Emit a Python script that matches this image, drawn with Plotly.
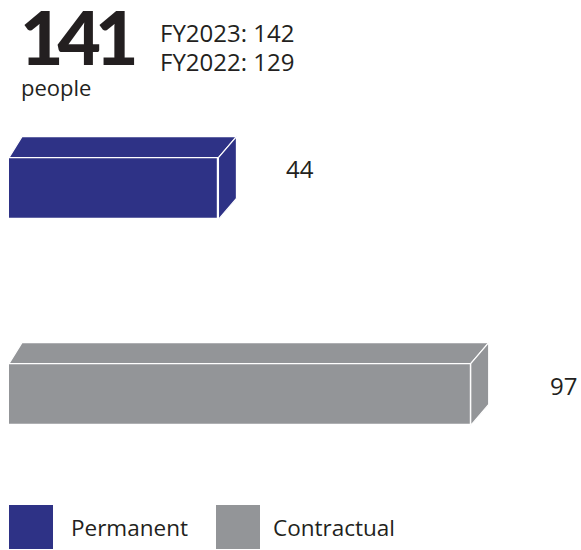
import plotly.graph_objects as go

# ---------------- data ----------------
categories = ["Permanent", "Contractual"]
values = [44, 97]
total_value = "141"
total_unit = "people"
prior_labels = ["FY2023: 142", "FY2022: 129"]

# ---------------- style ----------------
colors = ["#2E3286", "#939598"]
FONT = "Open Sans"
TEXT = "#231F20"
W, H = 581, 550
X_ZERO_PX = 9          # pixel position of value 0
X_SCALE = 4.76         # pixels per unit
Y0_PX = 188.5          # pixel centre of first bar
Y_STEP = 206           # pixels between bar centres
BAR_W = 0.30           # bar thickness in category units
DX_R = 18 / X_SCALE    # 3D depth (data units)
DX_L = 13 / X_SCALE
DY = 21 / Y_STEP
LABEL_XSHIFT = [66, 77]
LABEL_YSHIFT = [20, 9]

def px(x):
    return x / W

def py(y):
    return 1 - y / H

fig = go.Figure()

ypos = list(range(len(categories)))

# front faces
fig.add_trace(go.Bar(
    x=values, y=ypos, orientation="h", width=BAR_W,
    marker=dict(color=colors, line=dict(color="white", width=1.2)),
    showlegend=False, hoverinfo="skip",
))

# top and side faces
for i, (v, c) in enumerate(zip(values, colors)):
    top = ypos[i] - BAR_W / 2
    bot = ypos[i] + BAR_W / 2
    back = top - DY
    fig.add_trace(go.Scatter(
        x=[0, v, v + DX_R, DX_L, 0], y=[top, top, back, back, top],
        fill="toself", fillcolor=c, mode="lines",
        line=dict(color="white", width=1.2), showlegend=False, hoverinfo="skip"))
    fig.add_trace(go.Scatter(
        x=[v, v + DX_R, v + DX_R, v, v], y=[top, back, bot - DY, bot, top],
        fill="toself", fillcolor=c, mode="lines",
        line=dict(color="white", width=1.2), showlegend=False, hoverinfo="skip"))

annotations = []
for i, v in enumerate(values):
    annotations.append(dict(
        x=v, y=ypos[i], xref="x", yref="y", text=str(v), showarrow=False,
        xanchor="left", yanchor="middle", xshift=LABEL_XSHIFT[i], yshift=LABEL_YSHIFT[i],
        font=dict(family=FONT, size=24, color=TEXT)))

# headline
annotations.append(dict(
    x=px(18), y=py(-11), xref="paper", yref="paper",
    text='<span style="letter-spacing:-6px">' + total_value + '</span>', showarrow=False,
    xanchor="left", yanchor="top",
    font=dict(family="Lato", size=75, color=TEXT, weight=900)))
annotations.append(dict(
    x=px(19), y=py(87), xref="paper", yref="paper", text=total_unit, showarrow=False,
    xanchor="left", yanchor="middle", font=dict(family=FONT, size=22, color=TEXT)))
for k, t in enumerate(prior_labels):
    annotations.append(dict(
        x=px(158), y=py(32.5 + 28.5 * k), xref="paper", yref="paper", text=t, showarrow=False,
        xanchor="left", yanchor="middle", font=dict(family=FONT, size=24, color=TEXT)))

# legend
shapes = []
leg_x = [9, 216]
leg_tx = [69, 271]
for k, (name, c) in enumerate(zip(categories, colors)):
    x0 = leg_x[k]
    shapes.append(dict(type="rect", xref="paper", yref="paper",
                       x0=px(x0), x1=px(x0 + 44), y0=py(505), y1=py(549),
                       fillcolor=c, line=dict(width=0)))
    annotations.append(dict(
        x=px(leg_tx[k]), y=py(527), xref="paper", yref="paper", text=name, showarrow=False,
        xanchor="left", yanchor="middle", font=dict(family=FONT, size=22.5, color=TEXT)))

fig.update_layout(
    width=W, height=H, margin=dict(l=0, r=0, t=0, b=0),
    paper_bgcolor="white", plot_bgcolor="white",
    xaxis=dict(range=[-X_ZERO_PX / X_SCALE, (W - X_ZERO_PX) / X_SCALE], visible=False, fixedrange=True),
    yaxis=dict(range=[(H - Y0_PX) / Y_STEP, -Y0_PX / Y_STEP], visible=False, fixedrange=True),
    annotations=annotations, shapes=shapes, bargap=0,
)

fig.write_html("out.html")
